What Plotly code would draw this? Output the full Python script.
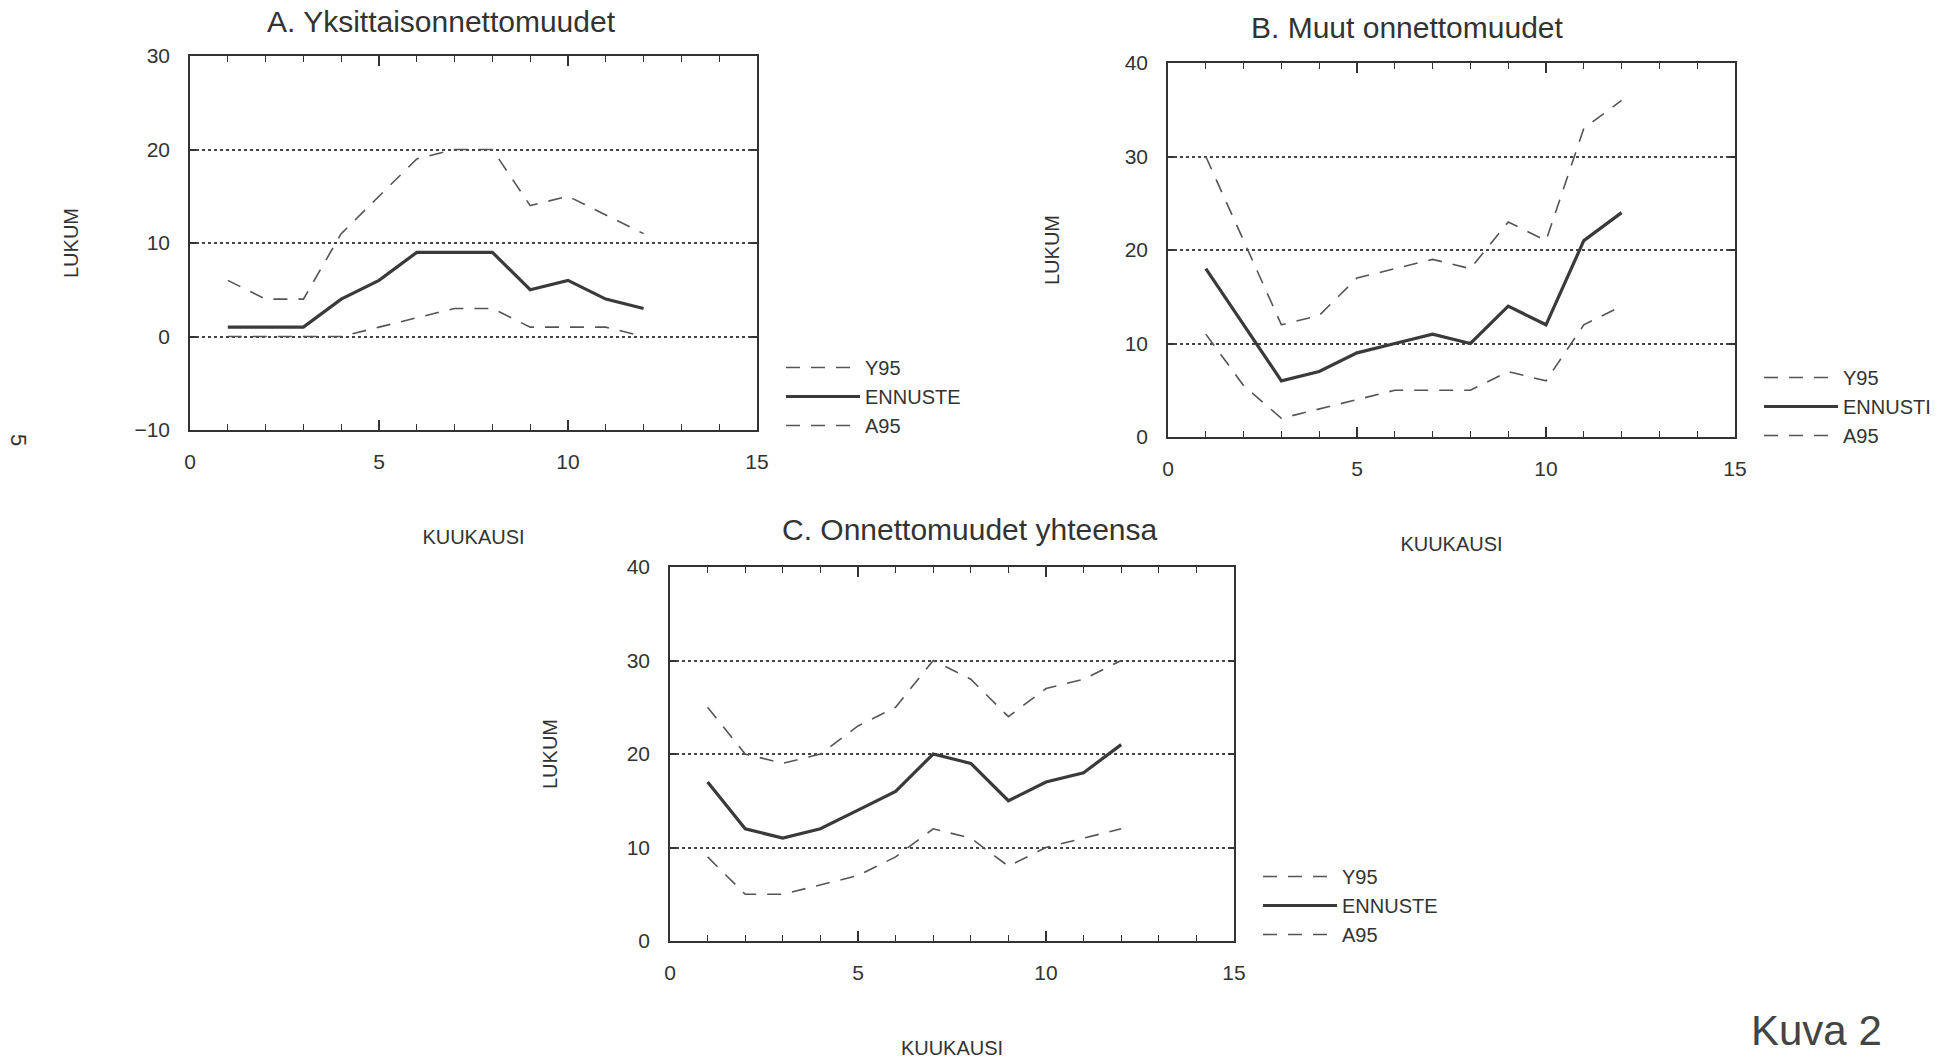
import plotly.graph_objects as go

# ---------------- data ----------------
months = [1, 2, 3, 4, 5, 6, 7, 8, 9, 10, 11, 12]

a_y95 = [6, 4, 4, 11, 15, 19, 20, 20, 14, 15, 13, 11]
a_ennuste = [1, 1, 1, 4, 6, 9, 9, 9, 5, 6, 4, 3]
a_a95 = [0, 0, 0, 0, 1, 2, 3, 3, 1, 1, 1, 0]

b_y95 = [30, 21, 12, 13, 17, 18, 19, 18, 23, 21, 33, 36]
b_ennuste = [18, 12, 6, 7, 9, 10, 11, 10, 14, 12, 21, 24]
b_a95 = [11, 5.5, 2, 3, 4, 5, 5, 5, 7, 6, 12, 14]

c_y95 = [25, 20, 19, 20, 23, 25, 30, 28, 24, 27, 28, 30]
c_ennuste = [17, 12, 11, 12, 14, 16, 20, 19, 15, 17, 18, 21]
c_a95 = [9, 5, 5, 6, 7, 9, 12, 11, 8, 10, 11, 12]

panel_titles = ["A. Yksittaisonnettomuudet", "B. Muut onnettomuudet", "C. Onnettomuudet yhteensa"]
legend_names = [["Y95", "ENNUSTE", "A95"], ["Y95", "ENNUSTI", "A95"], ["Y95", "ENNUSTE", "A95"]]
y_ranges = [[-10, 30], [0, 40], [0, 40]]
x_range = [0, 15]
x_title = "KUUKAUSI"
y_title = "LUKUM"

# ---------------- layout helpers ----------------
W, H = 1947, 1062
def px(x):
    return x / W
def py(y):
    return 1 - y / H

# plot boxes in pixel coordinates (left, right, top, bottom)
boxes = [(190, 757, 56, 430), (1168, 1735, 63, 437), (670, 1234, 567, 941)]
title_pos = [(441, 22), (1407, 27), (970, 529)]
legend_pos = [(781, 348), (1759, 358), (1258, 857)]
y_title_standoff = [50, 60, 64]
x_title_standoff = [58, 58, 58]

INK = "#333333"
FONT = "Liberation Sans"
DASH = "14px,11px"

fig = go.Figure()
series = [(a_y95, a_ennuste, a_a95), (b_y95, b_ennuste, b_a95), (c_y95, c_ennuste, c_a95)]
for i, (up, mid, lo) in enumerate(series):
    xa = "x" if i == 0 else f"x{i+1}"
    ya = "y" if i == 0 else f"y{i+1}"
    lg = "legend" if i == 0 else f"legend{i+1}"
    names = legend_names[i]
    fig.add_trace(go.Scatter(x=months, y=up, mode="lines", name=names[0], xaxis=xa, yaxis=ya,
                             legend=lg, line=dict(color="#555555", width=1.6, dash=DASH)))
    fig.add_trace(go.Scatter(x=months, y=mid, mode="lines", name=names[1], xaxis=xa, yaxis=ya,
                             legend=lg, line=dict(color="#3a3a3a", width=3.2)))
    fig.add_trace(go.Scatter(x=months, y=lo, mode="lines", name=names[2], xaxis=xa, yaxis=ya,
                             legend=lg, line=dict(color="#555555", width=1.6, dash=DASH)))

layout = dict(
    width=W, height=H,
    margin=dict(l=0, r=0, t=0, b=0, autoexpand=False),
    paper_bgcolor="white", plot_bgcolor="white",
    font=dict(family=FONT, color=INK),
    showlegend=True,
)

for i, (l, r, t, b) in enumerate(boxes):
    xk = "xaxis" if i == 0 else f"xaxis{i+1}"
    yk = "yaxis" if i == 0 else f"yaxis{i+1}"
    xa = "x" if i == 0 else f"x{i+1}"
    ya = "y" if i == 0 else f"y{i+1}"
    layout[xk] = dict(
        domain=[px(l), px(r)], anchor=ya, range=x_range, dtick=5, tick0=0,
        ticks="inside", ticklen=10, tickwidth=1.5, tickcolor=INK,
        minor=dict(dtick=1, ticks="inside", ticklen=6, tickwidth=1.2, tickcolor=INK, showgrid=False),
        showline=True, linecolor=INK, linewidth=1.6, mirror="allticks",
        showgrid=False, zeroline=False, automargin=False,
        tickfont=dict(size=21, color=INK, family=FONT), ticklabelstandoff=12,
        title=dict(text=x_title, font=dict(size=20, color=INK, family=FONT), standoff=x_title_standoff[i]),
        fixedrange=True,
    )
    layout[yk] = dict(
        domain=[py(b), py(t)], anchor=xa, range=y_ranges[i], dtick=10,
        ticks="inside", ticklen=6, tickwidth=1.5, tickcolor=INK,
        showline=True, linecolor=INK, linewidth=1.6, mirror="allticks",
        showgrid=True, gridcolor="#444444", gridwidth=1.6, griddash="dot", zeroline=False,
        automargin=False,
        tickfont=dict(size=21, color=INK, family=FONT), ticklabelstandoff=14,
        title=dict(text=y_title, font=dict(size=20, color=INK, family=FONT), standoff=y_title_standoff[i]),
        fixedrange=True,
    )
    lk = "legend" if i == 0 else f"legend{i+1}"
    lx, ly = legend_pos[i]
    layout[lk] = dict(
        x=px(lx), y=py(ly), xanchor="left", yanchor="top", xref="paper", yref="paper",
        bgcolor="rgba(0,0,0,0)", borderwidth=0, itemwidth=74, traceorder="normal",
        font=dict(size=20, color=INK, family=FONT), tracegroupgap=0,
    )

annotations = []
for i, (tx, ty) in enumerate(title_pos):
    annotations.append(dict(text=panel_titles[i], x=px(tx), y=py(ty), xref="paper", yref="paper",
                            xanchor="center", yanchor="middle", showarrow=False,
                            font=dict(size=30, color=INK, family=FONT)))
annotations.append(dict(text="5", x=px(19), y=py(440), xref="paper", yref="paper", xanchor="center",
                        yanchor="middle", showarrow=False, textangle=90,
                        font=dict(size=22, color=INK, family=FONT)))
annotations.append(dict(text="Kuva 2", x=px(1816), y=py(1030), xref="paper", yref="paper",
                        xanchor="center", yanchor="middle", showarrow=False,
                        font=dict(size=42, color="#444444", family=FONT)))
layout["annotations"] = annotations

fig.update_layout(**layout)

fig.write_html("out.html", config={"displayModeBar": False},
               post_script="document.body.style.margin='0';document.body.style.overflow='hidden';")
